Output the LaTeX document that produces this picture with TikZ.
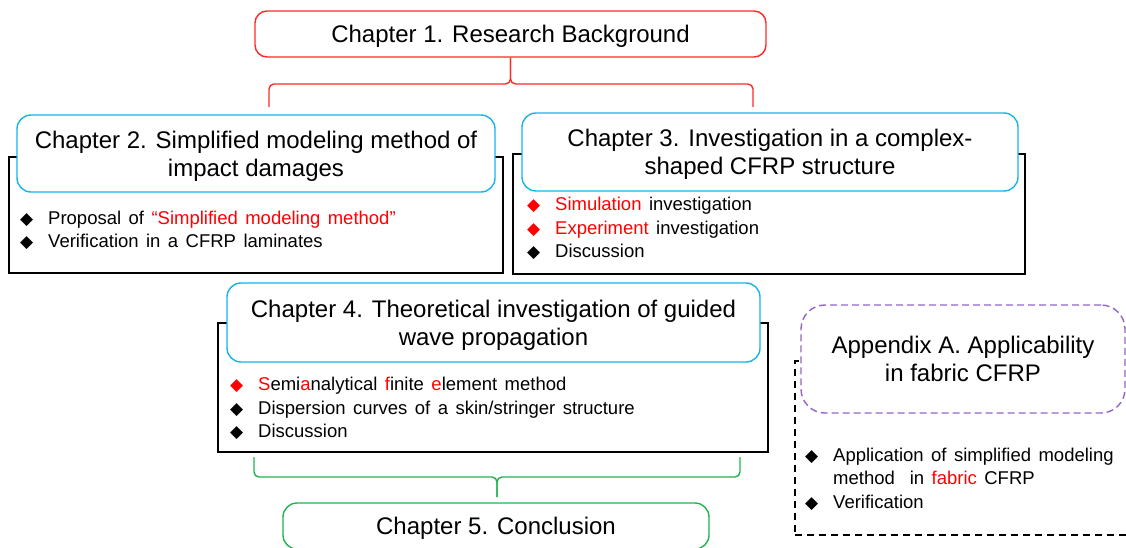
\documentclass[tikz,border=0pt]{standalone}
\usepackage{fontspec}
\setmainfont{Liberation Sans}
\newfontfamily\symfont{DejaVu Sans}
\newfontfamily\itemfamily[WordSpace=1.45]{Liberation Sans}

\definecolor{chred}{RGB}{255,40,40}
\definecolor{chblue}{RGB}{20,180,235}
\definecolor{chgreen}{RGB}{30,180,80}
\definecolor{chpurple}{RGB}{150,100,200}
\definecolor{hlred}{RGB}{255,0,0}

\newcommand{\headfont}{\fontsize{24}{28}\selectfont}
\newcommand{\itemfont}{\itemfamily\fontsize{18.5}{23.5}\selectfont}
\newcommand{\bul}[1]{\makebox[28pt][l]{{\symfont\fontsize{17}{17}\selectfont\color{#1}◆}}}

\begin{document}
\begin{tikzpicture}[x=1pt, y=1pt]
    \tikzset{
        chapter/.style={rectangle, rounded corners=14pt, fill=white, line width=1.4pt, align=center, font=\headfont, text depth=-4pt},
        chframe/.style={rectangle, draw=black, line width=1.1pt},
        items/.style={align=left, inner sep=0pt, anchor=base west, font=\itemfont},
        chbrace/.style={line width=1.4pt, rounded corners=5pt}
    }
    \useasboundingbox (0,0) rectangle (1126,-548);
    \clip (0,0) rectangle (1126,-548);

    % Frames behind the chapter titles
    \node [chframe, minimum width=494pt, minimum height=116pt] (ch2frame) at (256,-215) {};
    \node [chframe, minimum width=512pt, minimum height=120pt] (ch3frame) at (769,-214) {};
    \node [chframe, minimum width=550pt, minimum height=129pt] (ch4frame) at (493,-387.5) {};
    \node [chframe, dashed, dash pattern=on 7pt off 5pt, minimum width=365pt, minimum height=174pt] (appframe) at (977.5,-448) {};

    % Chapter titles
    \node [chapter, draw=chred, rounded corners=12pt, minimum width=511pt, minimum height=46pt] (ch1) at (510.5,-34) {Chapter 1. Research Background};
    \node [chapter, draw=chblue, minimum width=478pt, minimum height=77pt] (ch2) at (256,-153.5) {Chapter 2. Simplified modeling method of\\impact damages};
    \node [chapter, draw=chblue, minimum width=496pt, minimum height=78pt] (ch3) at (770,-152) {Chapter 3. Investigation in a complex-\\shaped CFRP structure};
    \node [chapter, draw=chblue, minimum width=533pt, minimum height=79pt] (ch4) at (493.5,-322.5) {Chapter 4. Theoretical investigation of guided\\wave propagation};
    \node [chapter, draw=chgreen, minimum width=426pt, minimum height=46pt] (ch5) at (496,-526) {Chapter 5. Conclusion};
    \node [chapter, draw=chpurple, dashed, dash pattern=on 7pt off 4pt, rounded corners=24pt, minimum width=324pt, minimum height=108pt] (appA) at (963,-359) {Appendix A. Applicability\\in fabric CFRP};

    % Contents (anchored at the last line)
    \node [items] (ch2list) at (20,-247.5) {\bul{black}Proposal of {\color{hlred}“Simplified modeling method”}\\\bul{black}Verification in a CFRP laminates};
    \node [items] (ch3list) at (527,-257.5) {\bul{hlred}{\color{hlred}Simulation} investigation\\\bul{hlred}{\color{hlred}Experiment} investigation\\\bul{black}Discussion};
    \node [items] (ch4list) at (230,-437.5) {\bul{hlred}{\color{hlred}S}emi{\color{hlred}a}nalytical {\color{hlred}f}inite {\color{hlred}e}lement method\\\bul{black}Dispersion curves of a skin/stringer structure\\\bul{black}Discussion};
    \node [items] (applist) at (805,-508) {\bul{black}Application of simplified modeling\\\hspace*{28pt}method\ \ in {\color{hlred}fabric} CFRP\\\bul{black}Verification};

    % Braces
    \coordinate (ch1brL) at (269,-107);
    \coordinate (ch1brR) at (753,-107);
    \coordinate (ch1tip) at (510.5,-84);
    \draw [chbrace, draw=chred] (ch1brL) |- (ch1tip) -- (ch1.south);
    \draw [chbrace, draw=chred] (ch1brR) |- (ch1tip) -- (ch1.south);

    \coordinate (ch4brL) at (254,-457);
    \coordinate (ch4brR) at (740,-457);
    \coordinate (ch5tip) at (497,-477);
    \coordinate (ch5end) at (497,-497);
    \draw [chbrace, draw=chgreen] (ch4brL) |- (ch5tip) -- (ch5end);
    \draw [chbrace, draw=chgreen] (ch4brR) |- (ch5tip) -- (ch5end);
\end{tikzpicture}
\end{document}
